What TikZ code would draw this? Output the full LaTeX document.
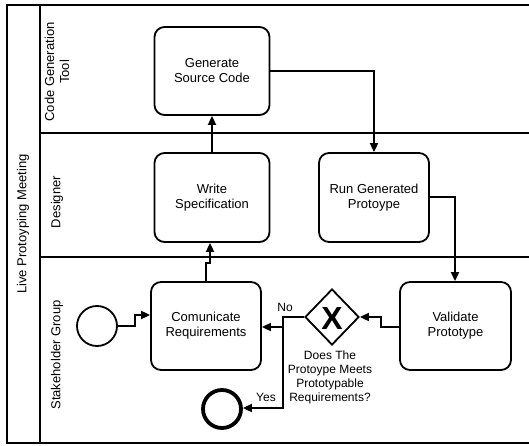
\documentclass[tikz,border=0pt]{standalone}
\usepackage{fontspec}
\setmainfont{Liberation Sans}
\usetikzlibrary{arrows.meta,shapes.geometric}
\tikzset{
  task/.style={draw, line width=1.8pt, rounded corners=10pt, minimum width=115pt, minimum height=88pt, inner sep=0pt, align=center, font=\fontsize{13}{15}\selectfont},
  flow/.style={draw, line width=1.8pt, -{Triangle[length=9pt,width=8pt]}},
  lane/.style={line width=1.8pt},
  lanelabel/.style={rotate=90, align=center, font=\fontsize{13}{15}\selectfont},
  small/.style={font=\fontsize{12}{14}\selectfont, align=center},
}
\begin{document}
\begin{tikzpicture}[x=1pt,y=-1pt]
\useasboundingbox (0,0) rectangle (529,446);
% pool frame
\draw[line width=2.2pt] (529,5) -- (7,5) -- (7,443) -- (529,443);
\draw[lane] (40,5) -- (40,443);
\draw[lane] (40,133) -- (529,133);
\draw[lane] (40,257) -- (529,257);
\node[lanelabel] (pool) at (23,224) {Live Protoyping Meeting};
\node[lanelabel] (l1) at (57,72) {Code Generation\\Tool};
\node[lanelabel] (l2) at (57,202) {Designer};
\node[lanelabel] (l3) at (57,355) {Stakeholder Group};
% tasks
\node[task] (gen) at (212,71) {Generate\\Source Code};
\node[task, minimum height=89pt] (write) at (212,197.5) {Write\\Specification};
\node[task, minimum width=110pt, minimum height=89pt] (run) at (374,197.5) {Run Generated\\Protoype};
\node[task, minimum width=110pt] (com) at (206,326) {Comunicate\\Requirements};
\node[task, minimum width=111pt] (val) at (455.5,326) {Validate\\Prototype};
% gateway
\node[draw, diamond, line width=1.8pt, minimum width=54pt, minimum height=56pt, inner sep=0pt] (gw) at (332,317) {};
\node[font=\fontsize{32}{32}\selectfont\bfseries] (gwx) at (332,318) {X};
\node[small] (gwl) at (330,377) {Does The\\Protoype Meets\\Prototypable\\Requirements?};
% events
\node[draw, circle, line width=1.8pt, minimum size=40pt, inner sep=0pt] (start) at (97,326) {};
\node[draw, circle, line width=3.8pt, minimum size=38pt, inner sep=0pt] (end) at (222,409) {};
% flows
\coordinate (s1) at (135,326);
\coordinate (s2) at (135,315);
\draw[flow] (start.east) -- (s1) -- (s2) -- (s2 -| com.west);
\coordinate (c1) at (206,263);
\coordinate (c2) at (210,263);
\draw[flow] (com.north) -- (c1) -- (c2) -- (c2 |- write.south);
\draw[flow] (write.north) -- (gen.south);
\coordinate (g1) at (374,71);
\draw[flow] (gen.east) -- (g1) -- (run.north);
\coordinate (r1) at (455,197);
\draw[flow] (run.east |- r1) -- (r1) -- (r1 |- val.north);
\coordinate (v1) at (381,327);
\coordinate (v2) at (381,317);
\draw[flow] (val.west |- v1) -- (v1) -- (v2) -- (gw.east);
\coordinate (n1) at (283,317);
\coordinate (n2) at (283,327);
\coordinate (y1) at (283,408);
\draw[flow] (gw.west) -- (n1) -- (n2) -- (n2 -| com.east);
\draw[flow] (n1) -- (y1) -- (y1 -| end.east);
\node[small] (no) at (285,307) {No};
\node[small] (yes) at (266,397) {Yes};
\end{tikzpicture}
\end{document}
